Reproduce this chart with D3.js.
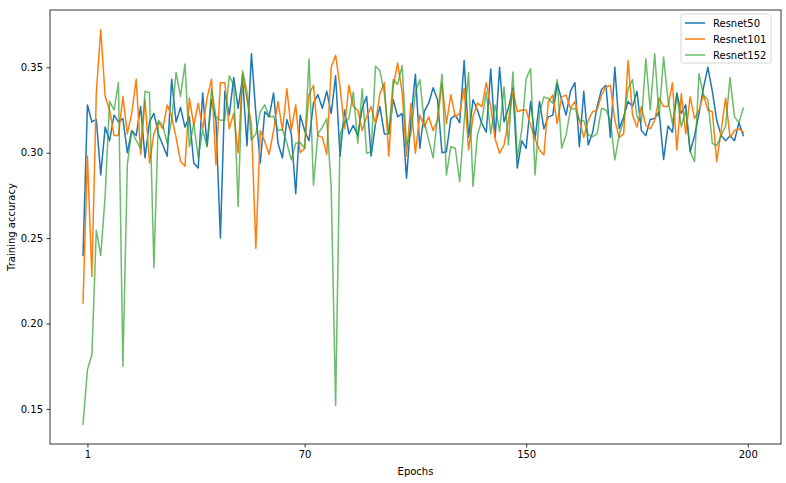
<!DOCTYPE html>
<html><head><meta charset="utf-8">
<script src="https://cdn.jsdelivr.net/npm/d3@7"></script>
<style>body{margin:0;background:#fff}svg{display:block}text{font-family:"DejaVu Sans",sans-serif}</style>
</head><body><svg id="c" width="786" height="483"></svg>
<script>
const seriesNames = ["Resnet50", "Resnet101", "Resnet152"];
const resnet50 = [0.240,0.328,0.318,0.3195,0.287,0.315,0.307,0.322,0.318,0.320,0.300,0.313,0.310,0.327,0.297,0.318,0.323,0.311,0.3045,0.298,0.343,0.318,0.3265,0.315,0.321,0.294,0.291,0.335,0.304,0.331,0.319,0.250,0.336,0.322,0.344,0.326,0.344,0.304,0.358,0.323,0.294,0.324,0.321,0.335,0.3055,0.297,0.3195,0.311,0.276,0.322,0.313,0.307,0.329,0.334,0.326,0.336,0.323,0.345,0.298,0.325,0.311,0.316,0.310,0.326,0.333,0.298,0.317,0.327,0.311,0.311,0.331,0.321,0.323,0.285,0.320,0.346,0.3026,0.324,0.329,0.338,0.331,0.300,0.3006,0.320,0.322,0.3175,0.354,0.309,0.331,0.325,0.317,0.312,0.349,0.309,0.350,0.318,0.326,0.338,0.291,0.307,0.3026,0.330,0.308,0.330,0.314,0.321,0.322,0.3405,0.331,0.322,0.336,0.341,0.3035,0.336,0.3045,0.312,0.327,0.337,0.3395,0.309,0.350,0.314,0.321,0.330,0.327,0.336,0.313,0.310,0.3195,0.320,0.324,0.296,0.3156,0.312,0.335,0.323,0.328,0.3006,0.310,0.323,0.338,0.350,0.336,0.319,0.310,0.307,0.310,0.307,0.3175,0.310];
const resnet101 = [0.212,0.298,0.2275,0.335,0.372,0.333,0.325,0.310,0.310,0.333,0.311,0.323,0.343,0.299,0.331,0.294,0.311,0.318,0.314,0.328,0.321,0.309,0.295,0.292,0.332,0.316,0.329,0.314,0.332,0.343,0.293,0.341,0.341,0.314,0.323,0.300,0.346,0.331,0.317,0.244,0.313,0.3065,0.299,0.313,0.330,0.313,0.3375,0.313,0.328,0.300,0.3025,0.334,0.3395,0.310,0.309,0.299,0.350,0.357,0.3385,0.314,0.3395,0.327,0.325,0.313,0.321,0.327,0.317,0.3346,0.341,0.298,0.3385,0.3525,0.3356,0.298,0.329,0.2997,0.322,0.315,0.321,0.313,0.319,0.3405,0.317,0.334,0.321,0.323,0.3376,0.3016,0.321,0.329,0.327,0.341,0.327,0.308,0.2997,0.3045,0.319,0.3366,0.324,0.325,0.325,0.316,0.308,0.3016,0.2987,0.330,0.3337,0.317,0.3327,0.3337,0.326,0.330,0.319,0.309,0.319,0.324,0.325,0.3337,0.3385,0.3395,0.319,0.309,0.311,0.354,0.322,0.315,0.327,0.316,0.314,0.319,0.332,0.327,0.327,0.341,0.3016,0.3346,0.311,0.3327,0.320,0.325,0.3337,0.325,0.324,0.2948,0.313,0.332,0.309,0.313,0.314,0.312];
const resnet152 = [0.141,0.173,0.1817,0.2546,0.2398,0.275,0.330,0.325,0.341,0.175,0.293,0.313,0.307,0.3025,0.336,0.335,0.2326,0.319,0.316,0.3055,0.319,0.347,0.333,0.352,0.3035,0.317,0.297,0.3133,0.3035,0.3375,0.321,0.319,0.319,0.345,0.3395,0.2685,0.348,0.3356,0.3074,0.311,0.324,0.328,0.321,0.3214,0.313,0.3136,0.3055,0.2958,0.3055,0.306,0.3026,0.355,0.281,0.311,0.315,0.320,0.280,0.152,0.3104,0.318,0.320,0.3356,0.3055,0.3375,0.2997,0.3006,0.3506,0.348,0.3346,0.311,0.3428,0.340,0.351,0.3045,0.311,0.335,0.3428,0.318,0.3074,0.297,0.321,0.346,0.287,0.3035,0.3026,0.283,0.318,0.347,0.2802,0.3104,0.319,0.3356,0.311,0.328,0.3123,0.3385,0.3045,0.3473,0.297,0.3133,0.3434,0.3492,0.287,0.323,0.3327,0.3317,0.329,0.3428,0.3026,0.3104,0.3253,0.326,0.319,0.3187,0.3104,0.3094,0.311,0.326,0.325,0.319,0.2958,0.3104,0.319,0.3375,0.3428,0.321,0.318,0.355,0.325,0.358,0.321,0.356,0.331,0.317,0.334,0.3152,0.325,0.3006,0.2948,0.3463,0.3337,0.331,0.3055,0.304,0.310,0.3156,0.344,0.321,0.3175,0.326];
const xTickPositions = [1, 50, 100, 150];
const xTickLabels = ["1", "70", "150", "200"];
const yTickValues = [0.15, 0.20, 0.25, 0.30, 0.35];

const colors = ["#1f77b4", "#ff7f0e", "#2ca02c"];
const opac = [1, 1, 0.7];
const all = [resnet50, resnet101, resnet152];
const L = 50, R = 781, T = 10, B = 444;
const svg = d3.select("#c");
const n = resnet50.length;
const xpad = (n - 1) * 0.05;
const x = d3.scaleLinear().domain([-xpad, 157.5]).range([L, R]);
const ext = d3.extent(all.flat());
const ypad = (ext[1] - ext[0]) * 0.05;
const y = d3.scaleLinear().domain([ext[0] - ypad, ext[1] + ypad]).range([B, T]);

const line = d3.line().x((d, i) => x(i)).y(d => y(d));
all.forEach((s, k) => {
  svg.append("path").datum(s).attr("d", line).attr("fill", "none")
    .attr("stroke", colors[k]).attr("stroke-width", 1.5).attr("stroke-opacity", opac[k])
    .attr("stroke-linejoin", "round").attr("stroke-linecap", "square");
});

const xAxis = d3.axisBottom(x).tickValues(xTickPositions).tickFormat((d, i) => xTickLabels[i]).tickSize(3.5).tickPadding(3.5);
const gx = svg.append("g").attr("transform", `translate(0,${B})`).call(xAxis);
const yAxis = d3.axisLeft(y).tickValues(yTickValues).tickFormat(d3.format(".2f")).tickSize(3.5).tickPadding(3.5);
const gy = svg.append("g").attr("transform", `translate(${L},0)`).call(yAxis);
[gx, gy].forEach(g => {
  g.select(".domain").remove();
  g.selectAll("text").attr("font-size", 10).attr("fill", "#000").style("font-family", "DejaVu Sans");
  g.selectAll("line").attr("stroke", "#000").attr("stroke-width", 0.8);
});
svg.append("rect").attr("x", L).attr("y", T).attr("width", R - L).attr("height", B - T)
  .attr("fill", "none").attr("stroke", "#000").attr("stroke-width", 0.8);

svg.append("text").attr("x", (L + R) / 2).attr("y", 475).attr("text-anchor", "middle").attr("font-size", 10).text("Epochs");
svg.append("text").attr("transform", `translate(15,${(T + B) / 2}) rotate(-90)`).attr("text-anchor", "middle").attr("font-size", 10).text("Training accuracy");

const lg = svg.append("g");
lg.append("rect").attr("x", 681).attr("y", 14).attr("width", 90).attr("height", 49).attr("rx", 2.5)
  .attr("fill", "#fff").attr("fill-opacity", 0.8).attr("stroke", "#ccc").attr("stroke-width", 0.8);
seriesNames.forEach((nm, k) => {
  const yy = 23 + k * 16;
  lg.append("line").attr("x1", 685).attr("x2", 705).attr("y1", yy).attr("y2", yy)
    .attr("stroke", colors[k]).attr("stroke-width", 1.5).attr("stroke-opacity", opac[k]);
  lg.append("text").attr("x", 713).attr("y", yy + 3.5).attr("font-size", 10).text(nm);
});
</script></body></html>
